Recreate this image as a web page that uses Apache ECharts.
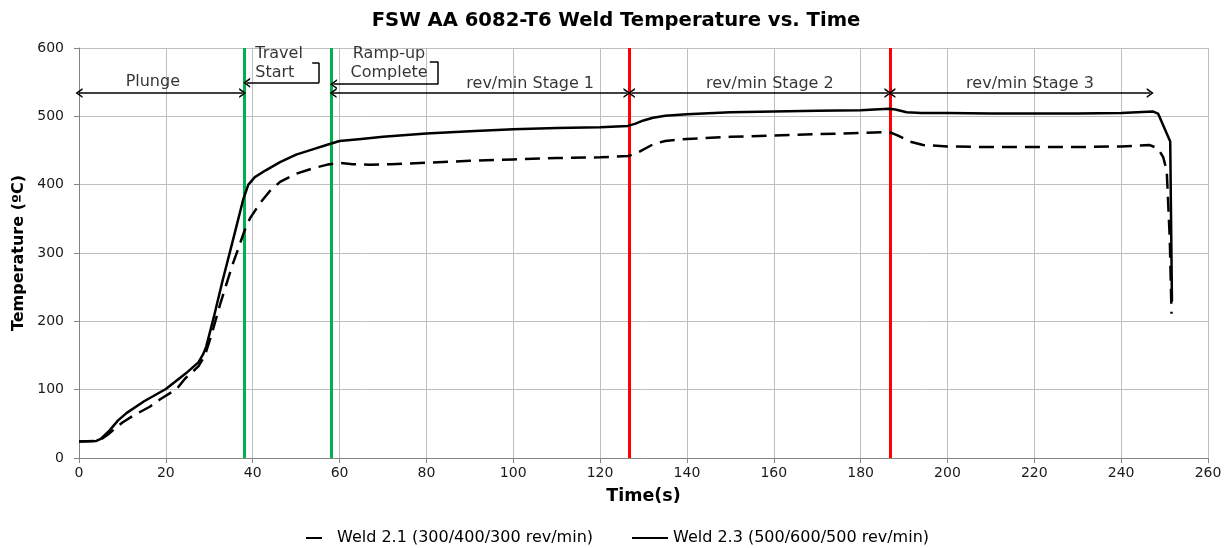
<!DOCTYPE html>
<html>
<head>
<meta charset="utf-8">
<title>FSW AA 6082-T6 Weld Temperature vs. Time</title>
<script src="https://cdn.jsdelivr.net/npm/echarts@6/dist/echarts.min.js"></script>
<style>
  html, body { margin: 0; padding: 0; background: #ffffff; }
  #chart { width: 1232px; height: 548px; }
</style>
</head>
<body>
<div id="chart"></div>
<script>
// Thermocouple readings, [time (s), temperature (°C)]
const weld21 = [
  [0,24],[4,25],[5,27],[7,36],[10,52],[12.5,62],[16.3,75],[18.7,86],[22.5,101],[24.4,116],
  [27.5,134],[29,150],[30.5,180],[32.5,225],[35.2,280],[38.2,334],[39.4,351],[41.7,373],
  [44,391],[46.3,404],[50,416],[53.9,424],[57,429],[60,432],[63,430],[67,429],[72,430],
  [80,432],[90,435],[100,437],[110,439],[120,440],[126.5,442],[128,445],[129.3,449],
  [132.2,459],[135,464],[140,467],[150,470],[160,472],[170,474],[180,475.5],[186.6,477],
  [188.5,472],[191.4,463],[194.4,458],[200,456],[210,455],[220,455],[230,455],[240,456],
  [246.6,458],[248.5,453],[249.7,440],[250.5,420],[251.2,320],[251.6,211]
];
const weld23 = [
  [0,24],[4,25],[5,28],[7,40],[9,55],[11,66],[15,83],[20,101],[25,126],[27.5,140],
  [28.6,152],[29.3,163],[31,205],[33,258],[35.5,320],[37.8,378],[39,400],[40.5,411],
  [43,421],[46.3,433],[50,444],[54,452],[57,458],[60,464],[65,467],[70,470],[80,475],
  [90,478],[100,481],[110,483],[120,484],[126.4,486],[128,489],[130,494],[132.2,498],
  [135,501],[140,503],[150,506],[160,507],[170,508],[180,509],[186.5,511],[188,510],
  [190.6,506],[194,505],[200,505],[210,504],[220,504],[230,504],[240,505],[247.4,507],
  [248.5,504],[251.3,463],[251.7,229]
];

const seriesNames = ['Weld 2.1 (300/400/300 rev/min)', 'Weld 2.3 (500/600/500 rev/min)'];

// Process events (s): travel start, ramp-up complete, stage changes
const eventTimes = [38, 58, 126.7, 186.8];
const eventColors = ['#00b050', '#00b050', '#ff0000', '#ff0000'];

// Phase spans drawn as double arrows
const spanStarts = [0, 58.5, 127.2, 187.2];
const spanEnds = [37.7, 126.2, 186.3, 246.7];
const spanLevel = 534;

// Phase labels: text, time, temperature, alignment
const labelTexts = ['Plunge', 'Travel\nStart', 'Ramp-up\nComplete', 'rev/min Stage 1', 'rev/min Stage 2', 'rev/min Stage 3'];
const labelTimes = [17, 40.6, 71.4, 103.9, 159.1, 219];
const labelTemps = [550, 577, 577, 547, 547, 547];
const labelAligns = ['center', 'left', 'center', 'center', 'center', 'center'];

// Callout brackets: [x, y] corners and where their arrows end
const travelBracket = [[53.7, 578], [55.3, 578], [55.3, 549], [38.6, 549]];
const rampBracket = [[80.8, 580], [82.7, 580], [82.7, 547], [58.6, 547]];

const FONT = 'DejaVu Sans';
const chevron = 'path://M0,9 L5,0 L10,9 L8.2,9 L5,3.2 L1.8,9 Z';
const arrowStyle = { color: '#000', width: 1.5, type: 'solid' };

function bracketLines(pts) {
  const out = [];
  for (let i = 0; i < pts.length - 1; i++) {
    const last = i === pts.length - 2;
    out.push([
      { coord: pts[i], symbol: 'none' },
      { coord: pts[i + 1], symbol: last ? chevron : 'none', symbolSize: [10, 7] }
    ]);
  }
  return out;
}

const annotationLines = [];
eventTimes.forEach((t, i) => {
  annotationLines.push({ xAxis: t, symbol: 'none', lineStyle: { color: eventColors[i], width: 3, type: 'solid' } });
});
spanStarts.forEach((s, i) => {
  annotationLines.push([
    { coord: [s, spanLevel], symbol: chevron, symbolSize: [10, 7] },
    { coord: [spanEnds[i], spanLevel], symbol: chevron, symbolSize: [10, 7] }
  ]);
});
bracketLines(travelBracket).forEach(l => annotationLines.push(l));
bracketLines(rampBracket).forEach(l => annotationLines.push(l));

const labelData = labelTexts.map((txt, i) => ({
  name: txt,
  value: [labelTimes[i], labelTemps[i]],
  label: { align: labelAligns[i] }
}));

// legend keys show only the line, no marker
const hiddenMarker = { color: 'rgba(0,0,0,0)', borderColor: 'rgba(0,0,0,0)', borderWidth: 0, opacity: 0 };

const chart = echarts.init(document.getElementById('chart'), null, { renderer: 'canvas' });
chart.setOption({
  animation: false,
  backgroundColor: '#ffffff',
  textStyle: { fontFamily: FONT },
  title: {
    text: 'FSW AA 6082-T6 Weld Temperature vs. Time',
    left: 'center',
    top: 6,
    textStyle: { fontFamily: FONT, fontSize: 19.6, fontWeight: 'bold', color: '#000' }
  },
  legend: [
    {
      data: [{ name: seriesNames[0], lineStyle: { type: [16, 30], dashOffset: -10 } }],
      left: 290, top: 525, itemWidth: 36, itemHeight: 14,
      itemStyle: hiddenMarker,
      textStyle: { fontFamily: FONT, fontSize: 16, color: '#000' }
    },
    {
      data: [seriesNames[1]],
      left: 626, top: 525, itemWidth: 36, itemHeight: 14,
      itemStyle: hiddenMarker,
      textStyle: { fontFamily: FONT, fontSize: 16, color: '#000' }
    }
  ],
  grid: { left: 79, right: 24, top: 48, bottom: 90, containLabel: false },
  xAxis: {
    type: 'value',
    min: 0, max: 260, interval: 20,
    name: 'Time(s)',
    nameLocation: 'middle',
    nameGap: 29,
    nameTextStyle: { fontFamily: FONT, fontSize: 17.5, fontWeight: 'bold', color: '#000' },
    axisLine: { show: true, lineStyle: { color: '#868686', width: 1 } },
    axisTick: { show: true, length: 5, lineStyle: { color: '#868686' } },
    axisLabel: { fontFamily: FONT, fontSize: 14, color: '#1a1a1a', margin: 8 },
    splitLine: { show: true, lineStyle: { color: '#bfbfbf', width: 1 } }
  },
  yAxis: {
    type: 'value',
    min: 0, max: 600, interval: 100,
    name: 'Temperature (ºC)',
    nameLocation: 'middle',
    nameGap: 52,
    nameTextStyle: { fontFamily: FONT, fontSize: 16, fontWeight: 'bold', color: '#000' },
    axisLine: { show: true, lineStyle: { color: '#868686', width: 1 } },
    axisTick: { show: true, length: 5, lineStyle: { color: '#868686' } },
    axisLabel: { fontFamily: FONT, fontSize: 14, color: '#1a1a1a', margin: 15 },
    splitLine: { show: true, lineStyle: { color: '#bfbfbf', width: 1 } }
  },
  series: [
    {
      name: seriesNames[0],
      type: 'line',
      data: weld21,
      symbol: 'none',
      z: 5,
      lineStyle: { color: '#000', width: 2.5, type: [15, 8] },
      itemStyle: { color: '#000' }
    },
    {
      name: seriesNames[1],
      type: 'line',
      data: weld23,
      symbol: 'none',
      z: 5,
      lineStyle: { color: '#000', width: 2.5, type: 'solid' },
      itemStyle: { color: '#000' }
    },
    {
      name: 'phases',
      type: 'scatter',
      data: labelData,
      symbolSize: 0,
      silent: true,
      z: 6,
      label: {
        show: true,
        position: 'inside',
        formatter: p => p.name,
        fontFamily: FONT,
        fontSize: 16,
        lineHeight: 19,
        color: '#000'
      },
      markLine: {
        silent: true,
        animation: false,
        symbol: 'none',
        label: { show: false },
        lineStyle: arrowStyle,
        emphasis: { disabled: true },
        data: annotationLines
      }
    }
  ]
});
</script>
</body>
</html>
